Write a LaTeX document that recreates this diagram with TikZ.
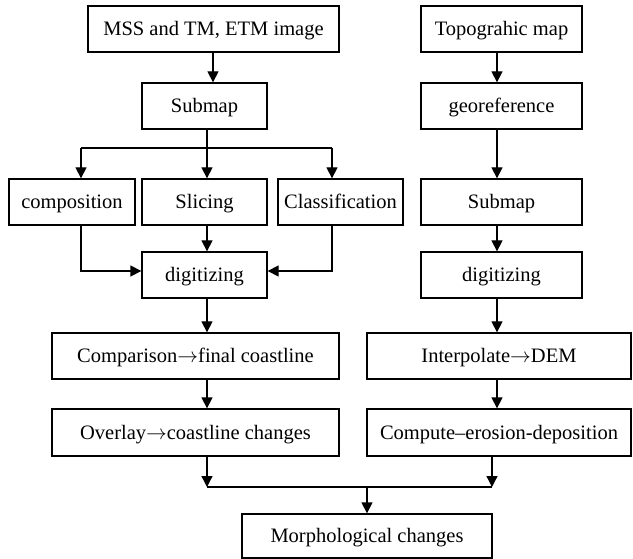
\documentclass[tikz,border=0pt]{standalone}
\usepackage{fontspec}
\setmainfont{Liberation Serif}
\usetikzlibrary{arrows.meta,calc}
\newcommand{\tto}{\ensuremath{\rightarrow}}
\tikzset{
  box/.style={draw, line width=1.3pt, rectangle, inner sep=0pt,
    minimum height=46pt, align=center, text height=13.5pt, text depth=0pt,
    font=\fontsize{20.5}{24}\selectfont},
  arr/.style={line width=1.3pt, -{Triangle[length=11pt,width=11pt]}},
  ln/.style={line width=1.3pt}
}
\begin{document}
\begin{tikzpicture}[x=1pt,y=-1pt]
\useasboundingbox (0,0) rectangle (633,559);
% left column
\node[box, minimum width=251pt] (mss)  at (213.5,29)  {MSS and TM, ETM image};
\node[box, minimum width=125pt] (subL) at (204.5,106) {Submap};
\node[box, minimum width=126pt] (comp) at (72,202)    {composition};
\node[box, minimum width=125pt] (slic) at (204.5,202) {Slicing};
\node[box, minimum width=125pt] (clas) at (340.5,202) {Classification};
\node[box, minimum width=125pt] (digL) at (204.5,275) {digitizing};
\node[box, minimum width=287pt] (cmpr) at (195.5,356) {Comparison\tto final coastline};
\node[box, minimum width=287pt, minimum height=47pt] (ovl) at (195.5,432.5) {Overlay\tto coastline changes};
% right column
\node[box, minimum width=161pt] (topo) at (501.5,29)  {Topograhic map};
\node[box, minimum width=161pt] (geo)  at (501.5,106) {georeference};
\node[box, minimum width=161pt] (subR) at (501.5,202) {Submap};
\node[box, minimum width=161pt] (digR) at (501.5,275) {digitizing};
\node[box, minimum width=264pt] (intp) at (499,356)   {Interpolate\tto DEM};
\node[box, minimum width=264pt, minimum height=47pt] (cpte) at (499,432.5) {Compute–erosion-deposition};
% result
\node[box, minimum width=250pt, minimum height=44pt] (morph) at (367,536) {Morphological changes};

% guide coordinates for the vertical connectors
\coordinate (xa) at (213,0);
\coordinate (xm) at (207,0);
\coordinate (xl) at (81,0);
\coordinate (xr) at (332,0);
\coordinate (xt) at (497,0);
\coordinate (xc) at (492,0);
\coordinate (xo) at (367,0);
\coordinate (yb) at (0,148);
\coordinate (yd) at (0,271);
\coordinate (ym) at (0,487);

% left column connectors
\draw[arr] (mss.south -| xa) -- (subL.north -| xa);
\draw[arr] (subL.south -| xm) -- (slic.north -| xm);
\draw[ln] (xl |- yb) -- (xr |- yb);
\draw[arr] (xl |- yb) -- (comp.north -| xl);
\draw[arr] (xr |- yb) -- (clas.north -| xr);
\draw[arr] (slic.south -| xm) -- (digL.north -| xm);
\draw[arr] (comp.south -| xl) |- (digL.west |- yd);
\draw[arr] (clas.south -| xr) |- (digL.east |- yd);
\draw[arr] (digL.south -| xm) -- (cmpr.north -| xm);
\draw[arr] (cmpr.south -| xm) -- (ovl.north -| xm);
\draw[arr] (ovl.south -| xm) -- (xm |- ym);

% right column connectors
\draw[arr] (topo.south -| xt) -- (geo.north -| xt);
\draw[arr] (geo.south -| xt) -- (subR.north -| xt);
\draw[arr] (subR.south -| xt) -- (digR.north -| xt);
\draw[arr] (digR.south -| xt) -- (intp.north -| xt);
\draw[arr] (intp.south -| xt) -- (cpte.north -| xt);
\draw[arr] (cpte.south -| xc) -- (xc |- ym);

% merge into the result
\draw[ln] (xm |- ym) -- (xc |- ym);
\draw[arr] (xo |- ym) -- (morph.north);
\end{tikzpicture}
\end{document}
